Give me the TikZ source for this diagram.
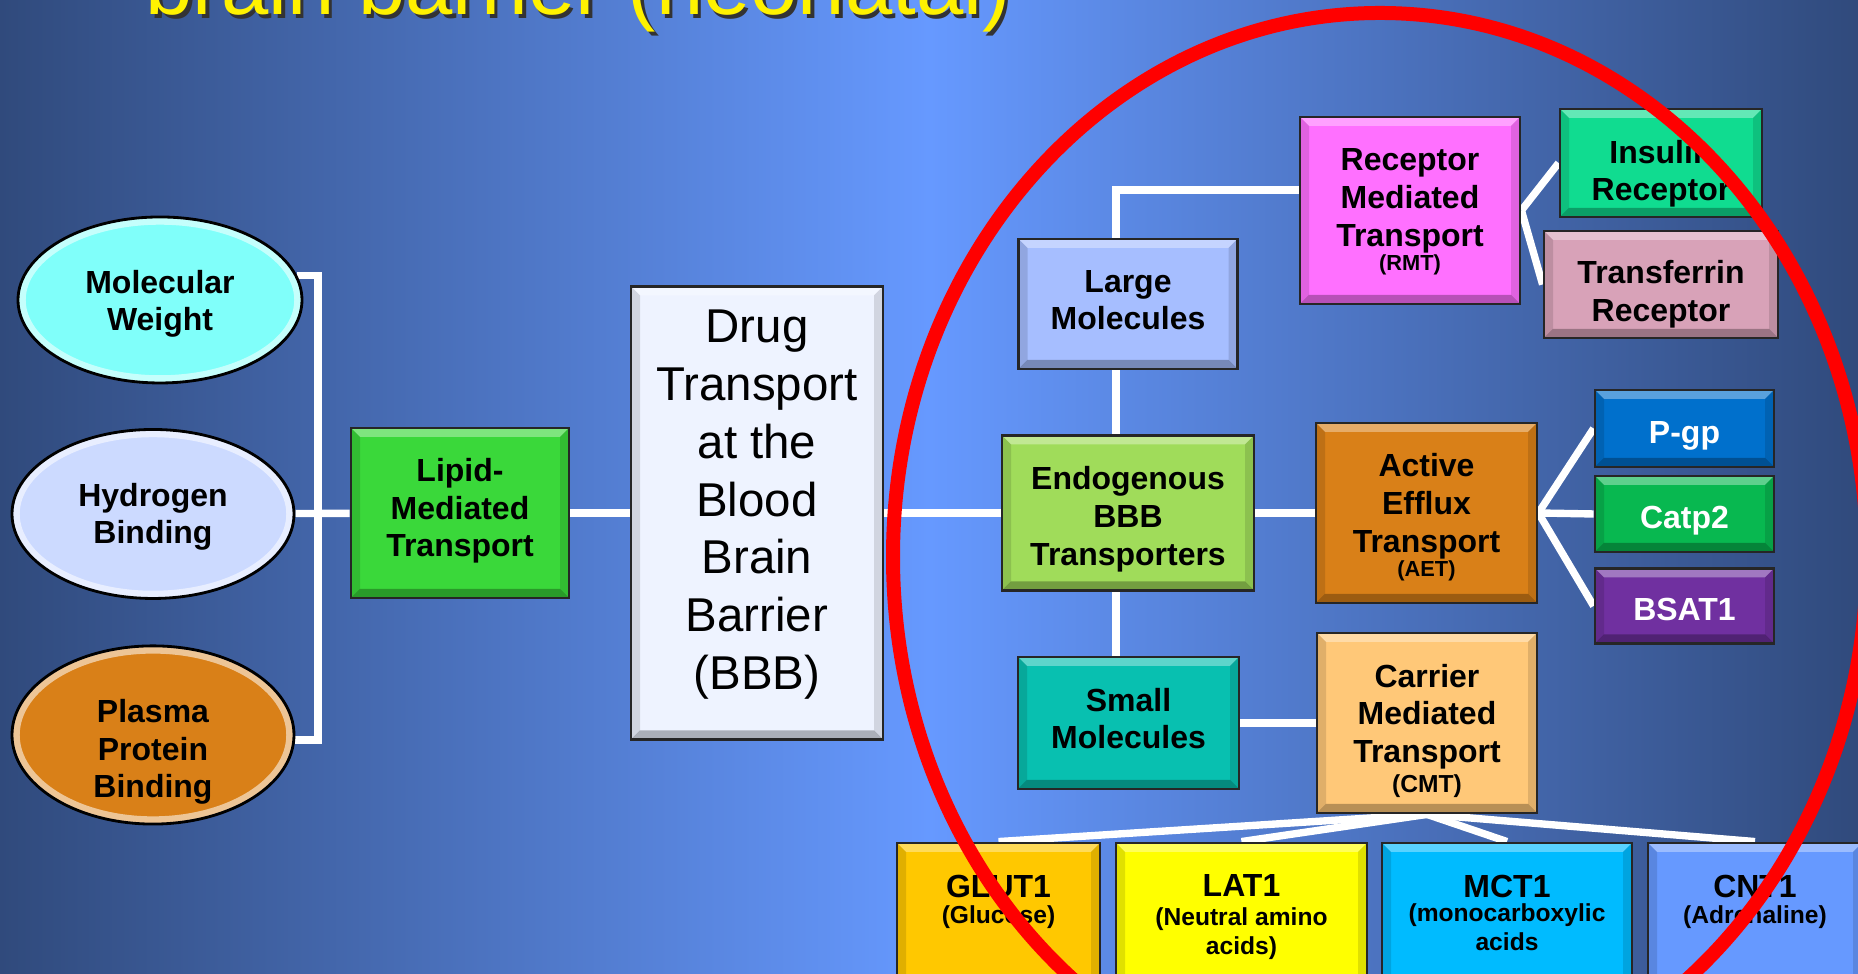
\documentclass[tikz,border=0pt]{standalone}
\usepackage{fontspec}
\setmainfont{Liberation Sans}
\usepackage{tikz}
\usetikzlibrary{backgrounds}
\usetikzlibrary{shapes.geometric}
\usetikzlibrary{calc}

\definecolor{bgdark}{RGB}{48,74,124}
\definecolor{bglight}{RGB}{102,153,255}
\definecolor{molwcol}{RGB}{128,255,250}
\definecolor{hydbcol}{RGB}{204,218,255}
\definecolor{ppbcol}{RGB}{217,128,24}
\definecolor{lipidcol}{RGB}{58,216,58}
\definecolor{drugcol}{RGB}{238,243,255}
\definecolor{endocol}{RGB}{160,220,90}
\definecolor{largecol}{RGB}{166,190,255}
\definecolor{rmtcol}{RGB}{255,112,255}
\definecolor{inscol}{RGB}{16,220,144}
\definecolor{trfcol}{RGB}{216,162,184}
\definecolor{aetcol}{RGB}{217,128,24}
\definecolor{pgpcol}{RGB}{0,112,204}
\definecolor{catpcol}{RGB}{8,184,80}
\definecolor{bsatcol}{RGB}{112,48,160}
\definecolor{smallcol}{RGB}{8,192,176}
\definecolor{cmtcol}{RGB}{255,200,120}
\definecolor{glutcol}{RGB}{255,200,0}
\definecolor{latcol}{RGB}{255,255,0}
\definecolor{mctcol}{RGB}{0,187,255}
\definecolor{cntcol}{RGB}{102,153,255}

\newcommand{\boxfont}{\fontsize{9.1}{10.8}\selectfont\bfseries}
\newcommand{\subfont}{\fontsize{6.2}{7}\selectfont}
\newcommand{\notefont}{\fontsize{7}{8.2}\selectfont}
\newcommand{\drugfont}{\fontsize{13.5}{16.5}\selectfont}
\newcommand{\titlefont}{\fontsize{24.2}{28}\selectfont}
\newcommand{\topbox}[2]{\parbox[c][1.57cm][t]{#1}{\centering\vspace*{0.32cm}#2}}

\tikzset{
  bevel/.style={path picture={
    \fill[white, opacity=0.35] (path picture bounding box.north west) -- (path picture bounding box.north east)
      -- ([shift={(-0.09,-0.09)}]path picture bounding box.north east) -- ([shift={(0.09,-0.09)}]path picture bounding box.north west) -- cycle;
    \fill[black, opacity=0.28] (path picture bounding box.south west) -- (path picture bounding box.south east)
      -- ([shift={(-0.09,0.09)}]path picture bounding box.south east) -- ([shift={(0.09,0.09)}]path picture bounding box.south west) -- cycle;
    \fill[black, opacity=0.12] (path picture bounding box.north west) -- (path picture bounding box.south west)
      -- ([shift={(0.09,0.09)}]path picture bounding box.south west) -- ([shift={(0.09,-0.09)}]path picture bounding box.north west) -- cycle;
    \fill[black, opacity=0.12] (path picture bounding box.north east) -- (path picture bounding box.south east)
      -- ([shift={(-0.09,0.09)}]path picture bounding box.south east) -- ([shift={(-0.09,-0.09)}]path picture bounding box.north east) -- cycle;
  }},
  glow/.style={path picture={
    \draw[white, opacity=0.55, line width=2pt]
      let \p1=($(path picture bounding box.north east)-(path picture bounding box.center)$)
      in (path picture bounding box.center) ellipse [x radius=\x1-1.2pt, y radius=\y1-1.2pt];
  }},
  box/.style={draw=black!85, line width=0.8pt, fill=#1, bevel, inner sep=0pt, align=center, font=\boxfont},
  oval/.style={ellipse, draw=black, line width=0.8pt, fill=#1, glow, inner sep=0pt, align=center, font=\boxfont},
  link/.style={draw=white, line width=2.1pt},
  % last baseline #1/2 below the centre
  sink/.style={text height=#1, text depth=0pt},
}

\begin{document}
\begin{tikzpicture}
  \useasboundingbox (0,0) rectangle (18.58,9.74);
  \clip (0,0) rectangle (18.58,9.74);

  % title, cut at the top
  \node[anchor=base west, font=\titlefont, text=black!80, inner sep=0pt] (titleshadow) at (1.485,9.555) {brain barrier (neonatal)};
  \node[anchor=base west, font=\titlefont, text=yellow, inner sep=0pt] (title) at (1.45,9.59) {brain barrier (neonatal)};

  % left part
  \node[oval=molwcol, minimum width=2.84cm, minimum height=1.66cm, sink=0.62cm] (molw) at (1.60,6.74) {Molecular\\Weight};
  \node[oval=hydbcol, minimum width=2.82cm, minimum height=1.69cm, sink=0.60cm] (hydb) at (1.53,4.60) {Hydrogen\\Binding};
  \node[oval=ppbcol, minimum width=2.82cm, minimum height=1.71cm, sink=1.26cm] (ppb) at (1.53,2.39) {Plasma\\Protein\\Binding};
  \coordinate (brk) at (3.18,4.60);

  \node[box=lipidcol, minimum width=2.18cm, minimum height=1.70cm, sink=0.88cm] (lipid) at (4.60,4.61) {Lipid-\\Mediated\\Transport};
  \node[box=drugcol, minimum width=2.52cm, minimum height=4.53cm, font=\drugfont, sink=3.54cm] (drug) at (7.57,4.61)
    {Drug\\Transport\\at the\\Blood\\Brain\\Barrier\\(BBB)};

  % right part
  \node[box=endocol, minimum width=2.52cm, minimum height=1.55cm, sink=1.05cm] (endo) at (11.28,4.61) {Endogenous\\BBB\\Transporters};
  \node[box=largecol, minimum width=2.19cm, minimum height=1.30cm, sink=0.52cm] (large) at (11.28,6.70) {Large\\Molecules};
  \node[box=smallcol, minimum width=2.21cm, minimum height=1.32cm, sink=0.52cm] (small) at (11.285,2.51) {Small\\Molecules};
  \coordinate (trunk) at (11.16,7.84);

  \node[box=rmtcol, minimum width=2.20cm, minimum height=1.87cm, sink=1.21cm] (rmt) at (14.10,7.635) {Receptor\\Mediated\\Transport\\[-3.7pt]{\subfont (RMT)}};
  \node[box=inscol, minimum width=2.02cm, minimum height=1.08cm, sink=0.76cm] (ins) at (16.61,8.11) {Insulin\\Receptor};
  \node[box=trfcol, minimum width=2.34cm, minimum height=1.07cm, sink=0.74cm] (trf) at (16.61,6.895) {Transferrin\\Receptor};

  \node[box=aetcol, minimum width=2.21cm, minimum height=1.80cm, sink=1.28cm] (aet) at (14.265,4.61) {Active\\Efflux\\Transport\\[-3.7pt]{\subfont (AET)}};
  \node[box=pgpcol, minimum width=1.79cm, minimum height=0.77cm, text=white, sink=0.30cm] (pgp) at (16.845,5.455) {P-gp};
  \node[box=catpcol, minimum width=1.79cm, minimum height=0.76cm, text=white, sink=0.30cm] (catp) at (16.845,4.60) {Catp2};
  \node[box=bsatcol, minimum width=1.79cm, minimum height=0.75cm, text=white, sink=0.30cm] (bsat) at (16.845,3.68) {BSAT1};

  \node[box=cmtcol, minimum width=2.20cm, minimum height=1.80cm, sink=1.39cm] (cmt) at (14.27,2.51) {Carrier\\Mediated\\Transport\\[-2.4pt]{\notefont (CMT)}};

  \node[box=glutcol, minimum width=2.03cm] (glut) at (9.985,0.525) {\topbox{2.0cm}{GLUT1\\[-0.8pt]\notefont (Glucose)}};
  \node[box=latcol, minimum width=2.51cm] (lat) at (12.415,0.525) {\topbox{2.4cm}{LAT1\\[-0.1pt]\notefont (Neutral amino\\acids)}};
  \node[box=mctcol, minimum width=2.50cm] (mct) at (15.07,0.525) {\topbox{2.4cm}{MCT1\\[-1.4pt]\notefont (monocarboxylic\\acids}};
  \node[box=cntcol, minimum width=2.14cm] (cnt) at (17.55,0.525) {\topbox{2.1cm}{CNT1\\[-0.8pt]\notefont (Adrenaline)}};

  \begin{scope}[on background layer]
    \shade[left color=bgdark, right color=bgdark, middle color=bglight] (0,0) rectangle (18.58,9.74);
    \draw[link] (molw.10) -| (brk) |- (ppb.-2);
    \draw[link] (hydb) -- (lipid);
    \draw[link] (lipid) -- (drug);
    \draw[link] (drug) -- (endo);
    \draw[link, line cap=rect] (trunk -| rmt.west) -- (trunk) -- (trunk |- small.north);
    \draw[link] (endo) -- (aet);
    \draw[link] (rmt.east) -- (ins.west);
    \draw[link] (rmt.east) -- (trf.west);
    \draw[link] (aet.east) -- (pgp.west);
    \draw[link] (aet.east) -- (catp.west);
    \draw[link] (aet.east) -- (bsat.west);
    \draw[link] (small) -- (cmt);
    \draw[link] (cmt.south) -- (glut.north);
    \draw[link] (cmt.south) -- (lat.north);
    \draw[link] (cmt.south) -- (mct.north);
    \draw[link] (cmt.south) -- (cnt.north);
  \end{scope}

  % red ring
  \draw[red, line width=0.14cm] (13.80,4.17) ellipse [x radius=4.87, y radius=5.44];
\end{tikzpicture}
\end{document}
